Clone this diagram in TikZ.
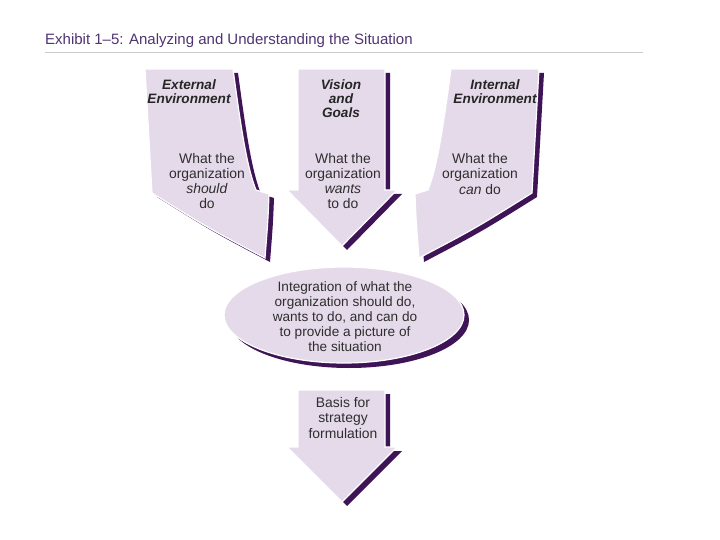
\documentclass[tikz,border=0pt]{standalone}
\usepackage{fontspec}
\setmainfont{Liberation Sans}
\definecolor{lav}{HTML}{E5DAEA}
\definecolor{shadowpurple}{HTML}{3F1457}
\definecolor{titlepurple}{HTML}{4F3472}
\definecolor{bodytext}{HTML}{2E2E2E}
\begin{document}
\begin{tikzpicture}[x=1pt,y=-1pt,
  arrowfill/.style={fill=lav,draw=white,line width=1.2pt,line join=miter},
  arrowshadow/.style={fill=shadowpurple,draw=none},
  headtext/.style={font=\fontsize{13.6}{14}\selectfont\bfseries\itshape,text=black!85,align=center,inner sep=0pt},
  bodytxt/.style={font=\fontsize{13.9}{15.3}\selectfont,text=bodytext,align=center,inner sep=0pt},
  ovaltxt/.style={font=\fontsize{13.6}{15}\selectfont,text=bodytext,align=center,inner sep=0pt}]
\useasboundingbox (0,0) rectangle (720,540);
\fill[white] (0,0) rectangle (720,540);
% title
\node[anchor=base west,inner sep=0pt,font=\fontsize{15}{16}\selectfont,text=titlepurple] (title) at (45,45) {Exhibit 1–5: Analyzing and Understanding the Situation};
\draw[black!20,line width=1pt] (45,53) -- (643,53);
% shapes
\def\leftarrowpath{(145,69) -- (233,69) .. controls (240,120) and (246,165) .. (256,190) -- (269,194) .. controls (268,220) .. (265,258) .. controls (208,228) .. (152,193) -- cycle}
\def\rightarrowpath{(539,69) -- (451,69) .. controls (444,120) and (438,165) .. (428,190) -- (415,194) .. controls (416,220) .. (419,258) .. controls (476,228) .. (532,193) -- cycle}
\def\midarrowpath{(298,69) -- (385,69) -- (385,190) -- (397,190) -- (342,246) -- (287,190) -- (298,190) -- cycle}
\def\botarrowpath{(298,390) -- (385,390) -- (385,447) -- (397,447) -- (342,502) -- (287,447) -- (298,447) -- cycle}
\begin{scope}[shift={(5,4)}]
  \fill[arrowshadow] \leftarrowpath;
  \fill[arrowshadow] \rightarrowpath;
  \fill[arrowshadow] \midarrowpath;
  \fill[arrowshadow] \botarrowpath;
\end{scope}
\filldraw[arrowfill] \leftarrowpath;
\filldraw[arrowfill] \rightarrowpath;
\filldraw[arrowfill] \midarrowpath;
\fill[arrowshadow] (349,320) ellipse [x radius=120, y radius=48];
\filldraw[arrowfill] (344,315) ellipse [x radius=120, y radius=48];
\filldraw[arrowfill] \botarrowpath;
% texts
\node[headtext] (exth) at (189,92) {External\\Environment};
\node[bodytxt] (extb) at (207,181) {What the\\organization\\\textit{should}\\do};
\node[headtext] (vish) at (341,99) {Vision\\and\\Goals};
\node[bodytxt] (visb) at (343,181) {What the\\organization\\\textit{wants}\\to do};
\node[headtext] (inth) at (495,92) {Internal\\Environment};
\node[bodytxt] (intb) at (480,174) {What the\\organization\\\textit{can} do};
\node[ovaltxt] (oval) at (345,317) {Integration of what the\\organization should do,\\wants to do, and can do\\to provide a picture of\\the situation};
\node[bodytxt] (basis) at (343,418) {Basis for\\strategy\\formulation};
\end{tikzpicture}
\end{document}
